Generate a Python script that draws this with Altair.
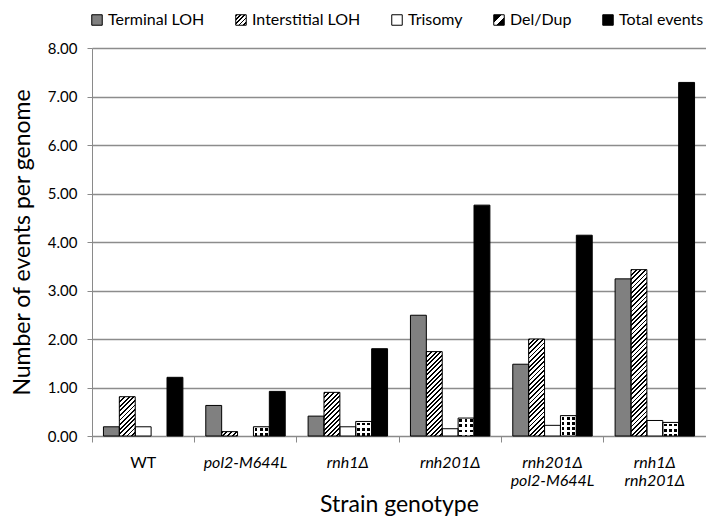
import json
import altair as alt

# ---------------- data ----------------
genotypes = ["WT", "pol2-M644L", "rnh1Δ", "rnh201Δ", "rnh201Δ pol2-M644L", "rnh1Δ rnh201Δ"]
series = ["Terminal LOH", "Interstitial LOH", "Trisomy", "Del/Dup", "Total events"]
terminal_loh = [0.19, 0.63, 0.41, 2.49, 1.48, 3.24]
interstitial_loh = [0.81, 0.09, 0.90, 1.74, 2.00, 3.43]
trisomy = [0.19, 0.00, 0.19, 0.15, 0.22, 0.32]
del_dup = [0.00, 0.19, 0.30, 0.37, 0.42, 0.28]
total_events = [1.21, 0.92, 1.80, 4.76, 4.14, 7.29]
y_ticks = [0, 1, 2, 3, 4, 5, 6, 7, 8]

# ---------------- layout constants ----------------
W, H = 614, 388
YMAX = 8
PPU = H / YMAX
OFF_PAD = 0.72
BW = W / len(genotypes) / (len(series) + 2 * OFF_PAD)
FONT = "Lato"
AXIS_GRAY = "#8a8a8a"


def hatch_grad(w, h, period=4.6, frac=0.42):
    """'/' hatching: black stripes on white, in a bbox-relative gradient."""
    L = w + h
    s = L / (w * w + h * h)
    stops = []
    i = 0
    while i * period / L < 1:
        a = i * period / L
        b = min((i + frac) * period / L, 1.0)
        stops += [{"offset": a, "color": "#ffffff"}, {"offset": a, "color": "#000000"},
                  {"offset": b, "color": "#000000"}, {"offset": b, "color": "#ffffff"}]
        i += 1
    stops.append({"offset": 1, "color": "#ffffff"})
    return {"gradient": "linear", "x1": 0, "y1": 0, "x2": s * w, "y2": s * h, "stops": stops}


def mask_grad(length, vertical, period=5.2, dot=2.8):
    """white with transparent gaps; two crossed masks over black leave dots."""
    stops = [{"offset": 0, "color": "#ffffff"}]
    i = 0
    while i * period < length:
        a = (i * period + (period - dot) / 2) / length
        b = (i * period + (period + dot) / 2) / length
        if a >= 1:
            break
        b = min(b, 1.0)
        stops += [{"offset": a, "color": "#ffffff"}, {"offset": a, "color": "rgba(255,255,255,0)"},
                  {"offset": b, "color": "rgba(255,255,255,0)"}, {"offset": b, "color": "#ffffff"}]
        i += 1
    stops.append({"offset": 1, "color": "#ffffff"})
    if vertical:
        return {"gradient": "linear", "x1": 0, "y1": 0, "x2": 0, "y2": 1, "stops": stops}
    return {"gradient": "linear", "x1": 0, "y1": 0, "x2": 1, "y2": 0, "stops": stops}


columns = [terminal_loh, interstitial_loh, trisomy, del_dup, total_events]
rows = []
for s_name, vals in zip(series, columns):
    for g, v in zip(genotypes, vals):
        h = max(v * PPU, 0.5)
        rows.append({
            "genotype": g,
            "series": s_name,
            "value": v,
            "hatch": hatch_grad(BW, h) if s_name == "Interstitial LOH" else None,
            "rowmask": mask_grad(h, True) if s_name == "Del/Dup" else None,
            "colmask": mask_grad(BW, False) if s_name == "Del/Dup" else None,
        })

data = alt.Data(values=rows)

legend_hatch = hatch_grad(10.5, 10.5, period=4.2, frac=0.45)
legend_dots = {"gradient": "linear", "x1": 0, "y1": 0, "x2": 1, "y2": 1,
               "stops": [{"offset": 0, "color": "#000000"}, {"offset": 0.38, "color": "#000000"},
                         {"offset": 0.38, "color": "#ffffff"}, {"offset": 0.62, "color": "#ffffff"},
                         {"offset": 0.62, "color": "#000000"}, {"offset": 1, "color": "#000000"}]}
legend_range = ["#808080", {"expr": json.dumps(legend_hatch)}, "#ffffff",
                {"expr": json.dumps(legend_dots)}, "#000000"]

x_enc = alt.X(
    "genotype:N", sort=genotypes,
    scale=alt.Scale(paddingInner=0, paddingOuter=0),
    axis=alt.Axis(
        title="Strain genotype", titleFont=FONT, titleFontSize=23, titleFontWeight="normal",
        titleColor="black", titlePadding=5,
        labelAngle=0, labelFont=FONT, labelFontSize=16, labelColor="black", labelPadding=12,
        labelExpr="split(datum.label, ' ')", labelLineHeight=18,
        labelFontStyle={"condition": {"test": "datum.value === 'WT'", "value": "normal"}, "value": "italic"},
        domainColor=AXIS_GRAY, domainWidth=1, tickColor=AXIS_GRAY, tickSize=6, bandPosition=0,
        grid=False,
    ),
)
xoff_enc = alt.XOffset("series:N", sort=series, scale=alt.Scale(paddingInner=0, paddingOuter=OFF_PAD))
y_enc = alt.Y(
    "value:Q", stack=None, scale=alt.Scale(domain=[0, YMAX], nice=False),
    axis=alt.Axis(
        values=y_ticks, format=".2f", labelFont=FONT, labelFontSize=15, labelColor="black",
        labelPadding=10, tickSize=5, tickColor=AXIS_GRAY, domainColor=AXIS_GRAY,
        gridColor="#8c8c8c", gridWidth=1.3,
        title="Number of events per genome", titleFont=FONT, titleFontSize=23,
        titleFontWeight="normal", titleColor="black", titlePadding=13,
    ),
)

legend = alt.Legend(
    title=None, orient="none", legendX=-3, legendY=-36, direction="horizontal",
    symbolType="square", symbolSize=110, labelFont=FONT, labelFontSize=16, labelColor="black",
    columnPadding=28, labelOffset=3, symbolStrokeColor="black", symbolStrokeWidth=1,
    symbolOpacity=1,
)

base = alt.Chart(data).transform_filter("datum.value > 0")

solid = base.mark_bar().encode(
    x=x_enc, xOffset=xoff_enc, y=y_enc,
    color=alt.Color("series:N", sort=series,
                    scale=alt.Scale(domain=series, range=legend_range),
                    legend=legend),
)
black_dd = base.transform_filter("datum.series === 'Del/Dup'").mark_bar(fill="#000000").encode(
    x=x_enc, xOffset=xoff_enc, y=y_enc,
)
hatch_layer = base.transform_filter("datum.series === 'Interstitial LOH'").mark_bar().encode(
    x=x_enc, xOffset=xoff_enc, y=y_enc, fill=alt.Fill("hatch:N", scale=None),
)
row_layer = base.transform_filter("datum.series === 'Del/Dup'").mark_bar().encode(
    x=x_enc, xOffset=xoff_enc, y=y_enc, fill=alt.Fill("rowmask:N", scale=None),
)
col_layer = base.transform_filter("datum.series === 'Del/Dup'").mark_bar().encode(
    x=x_enc, xOffset=xoff_enc, y=y_enc, fill=alt.Fill("colmask:N", scale=None),
)
outline = base.mark_bar(fillOpacity=0, stroke="black", strokeWidth=1).encode(
    x=x_enc, xOffset=xoff_enc, y=y_enc,
)

chart = alt.layer(solid, black_dd, hatch_layer, row_layer, col_layer, outline).properties(
    width=W, height=H,
    autosize=alt.AutoSizeParams(type="none"),
    padding={"left": 84, "top": 40, "right": 0, "bottom": 86},
).configure_view(strokeWidth=0)

chart.save("out.html", embed_options={"renderer": "svg", "actions": False})
